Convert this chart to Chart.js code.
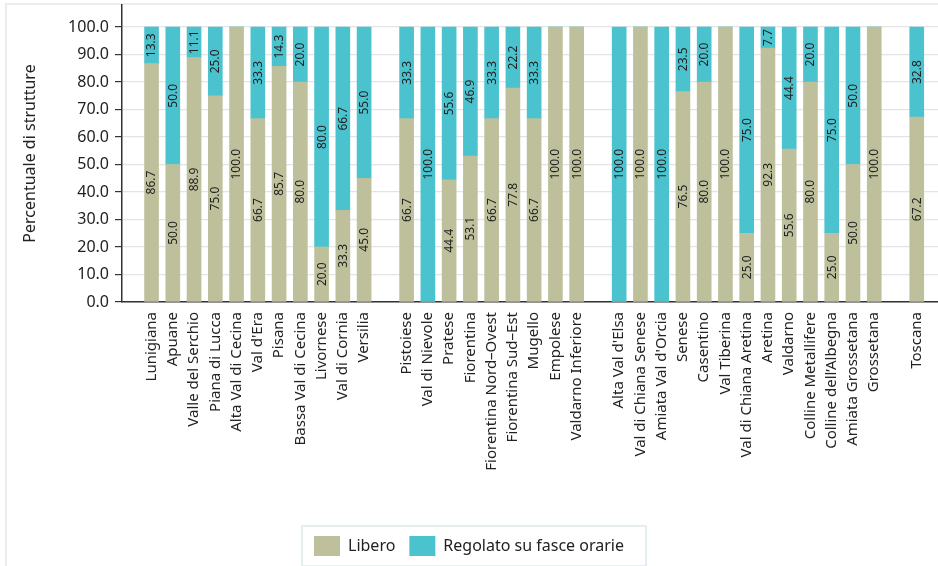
<!DOCTYPE html>
<html>
<head>
<meta charset="utf-8">
<script src="https://cdn.jsdelivr.net/npm/chart.js@4"></script>
<style>
  html, body { margin: 0; padding: 0; background: #fff; }
  #wrap { width: 938px; height: 566px; }
</style>
</head>
<body>
<div id="wrap"><canvas id="chart"></canvas></div>
<script>
// Categories ('' = gap between groups)
const categories = [
  'Lunigiana', 'Apuane', 'Valle del Serchio', 'Piana di Lucca', 'Alta Val di Cecina', "Val d'Era",
  'Pisana', 'Bassa Val di Cecina', 'Livornese', 'Val di Cornia', 'Versilia', '',
  'Pistoiese', 'Val di Nievole', 'Pratese', 'Fiorentina', 'Fiorentina Nord–Ovest', 'Fiorentina Sud–Est',
  'Mugello', 'Empolese', 'Valdarno Inferiore', '',
  "Alta Val d'Elsa", 'Val di Chiana Senese', "Amiata Val d'Orcia", 'Senese', 'Casentino', 'Val Tiberina',
  'Val di Chiana Aretina', 'Aretina', 'Valdarno', 'Colline Metallifere', 'Colline dell’Albegna',
  'Amiata Grossetana', 'Grossetana', '',
  'Toscana'
];

const libero = [
  86.7, 50.0, 88.9, 75.0, 100.0, 66.7, 85.7, 80.0, 20.0, 33.3, 45.0, null,
  66.7, 0, 44.4, 53.1, 66.7, 77.8, 66.7, 100.0, 100.0, null,
  0, 100.0, 0, 76.5, 80.0, 100.0, 25.0, 92.3, 55.6, 80.0, 25.0, 50.0, 100.0, null,
  67.2
];

const regolato = [
  13.3, 50.0, 11.1, 25.0, 0, 33.3, 14.3, 20.0, 80.0, 66.7, 55.0, null,
  33.3, 100.0, 55.6, 46.9, 33.3, 22.2, 33.3, 0, 0, null,
  100.0, 0, 100.0, 23.5, 20.0, 0, 75.0, 7.7, 44.4, 20.0, 75.0, 50.0, 0, null,
  32.8
];

const yTicks = [0, 10, 20, 30, 40, 50, 60, 70, 80, 90, 100];

const FONT = "'Noto Sans', sans-serif";

function points(arr) {
  return arr.map((v, i) => ({ x: i, y: v })).filter(p => p.y !== null);
}

// rotated value labels inside each segment
const valueLabels = {
  id: 'valueLabels',
  afterDatasetsDraw(chart) {
    const ctx = chart.ctx;
    ctx.save();
    ctx.font = '12px ' + FONT;
    ctx.fillStyle = '#222';
    ctx.textAlign = 'center';
    ctx.textBaseline = 'middle';
    chart.data.datasets.forEach((ds, di) => {
      const meta = chart.getDatasetMeta(di);
      meta.data.forEach((bar, j) => {
        const v = ds.data[j].y;
        if (!v) return;
        const cy = (bar.y + bar.base) / 2;
        ctx.save();
        ctx.translate(bar.x, cy);
        ctx.rotate(-Math.PI / 2);
        ctx.fillText(v.toFixed(1), 0, 0.5);
        ctx.restore();
      });
    });
    ctx.restore();
  }
};

// light frame and box around legend
const frame = {
  id: 'frame',
  beforeDraw(chart) {
    const ctx = chart.ctx;
    ctx.save();
    ctx.strokeStyle = '#e8eded';
    ctx.lineWidth = 2;
    ctx.beginPath();
    ctx.moveTo(6, 566);
    ctx.lineTo(6, 4);
    ctx.lineTo(938, 4);
    ctx.stroke();
    ctx.restore();
  },
  afterDraw(chart) {
    const boxes = chart.legend.legendHitBoxes;
    if (!boxes || !boxes.length) return;
    const l = boxes[0].left - 12;
    const last = boxes[boxes.length - 1];
    const r = last.left + last.width + 22;
    const t = boxes[0].top - 10;
    const b = boxes[0].top + boxes[0].height + 10;
    const ctx = chart.ctx;
    ctx.save();
    ctx.strokeStyle = '#dde8e9';
    ctx.lineWidth = 1.5;
    ctx.strokeRect(l, t, r - l, b - t);
    ctx.restore();
  }
};

new Chart(document.getElementById('chart'), {
  type: 'bar',
  data: {
    datasets: [
      {
        label: 'Libero',
        data: points(libero),
        backgroundColor: '#bec09c',
        stack: 's',
        barThickness: 14
      },
      {
        label: 'Regolato su fasce orarie',
        data: points(regolato),
        backgroundColor: '#4ac3cf',
        stack: 's',
        barThickness: 14
      }
    ]
  },
  options: {
    responsive: true,
    maintainAspectRatio: false,
    animation: false,
    layout: { padding: { left: 0, right: 0, top: 5, bottom: 0 } },
    plugins: {
      tooltip: { enabled: false },
      legend: {
        position: 'bottom',
        labels: {
          boxWidth: 26,
          boxHeight: 20,
          padding: 14,
          color: '#222',
          font: { family: FONT, size: 16 }
        }
      }
    },
    scales: {
      x: {
        type: 'linear',
        offset: false,
        min: -1.39,
        max: 37,
        grid: { display: false, drawTicks: false, offset: false },
        border: { display: true, color: '#333', width: 1.5 },
        ticks: {
          stepSize: 1,
          includeBounds: false,
          maxTicksLimit: 100,
          autoSkip: false,
          minRotation: 90,
          maxRotation: 90,
          padding: 10,
          color: '#222',
          font: { family: FONT, size: 15 },
          callback: (v) => Number.isInteger(v) ? (categories[v] || '') : ''
        },
        afterFit(s) {
          s.height = s.chart.height - 302 - s.chart.legend.height;
          s.paddingLeft = 0;
          s.paddingRight = 0;
        }
      },
      y: {
        stacked: true,
        min: 0,
        max: 108,
        grid: { color: '#e4e4e4', tickColor: '#333', tickLength: 7, lineWidth: 1.2 },
        border: { display: true, color: '#333', width: 1.5 },
        ticks: {
          stepSize: 10,
          includeBounds: false,
          padding: 6,
          color: '#222',
          font: { family: FONT, size: 16 },
          callback: (v) => v.toFixed(1)
        },
        afterBuildTicks(s) {
          s.ticks = yTicks.map(v => ({ value: v }));
        },
        title: {
          display: true,
          text: 'Percentuale di strutture',
          color: '#222',
          font: { family: FONT, size: 16 },
          padding: { top: 21, bottom: 0 }
        },
        afterFit(s) {
          s.width = 122;
          s.paddingTop = 0;
          s.paddingBottom = 0;
        }
      }
    }
  },
  plugins: [valueLabels, frame]
});
</script>
</body>
</html>
